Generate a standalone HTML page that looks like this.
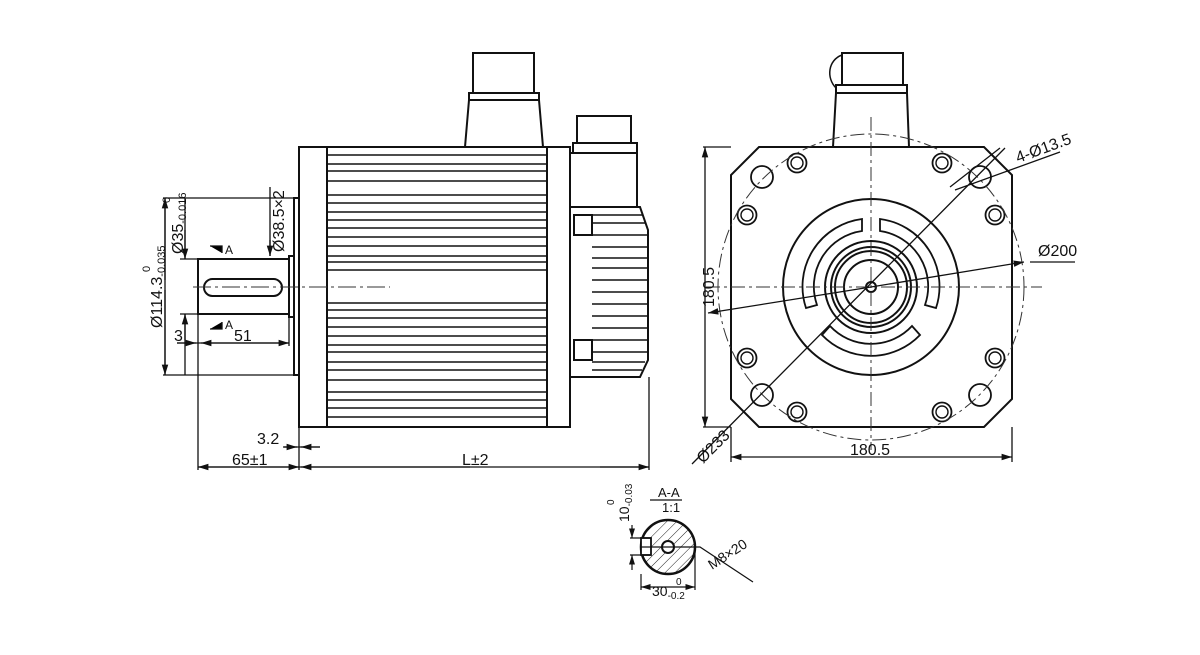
<!DOCTYPE html>
<html><head><meta charset="utf-8"><style>body{margin:0;background:#fff}svg{display:block}text{font-family:"Liberation Sans",sans-serif;fill:#111}</style></head><body>
<svg width="1200" height="655" viewBox="0 0 1200 655" xmlns="http://www.w3.org/2000/svg">
<defs>
<pattern id="h" width="7" height="7" patternUnits="userSpaceOnUse" patternTransform="rotate(45)"><line x1="0" y1="0" x2="0" y2="7" stroke="#222" stroke-width="1"/></pattern>
<marker id="a" markerWidth="8" markerHeight="6" refX="8" refY="3" orient="auto-start-reverse"><path d="M0,0.5L8,3L0,5.5z" fill="#111"/></marker>
<g id="s"><circle r="9.5"/><circle r="6" stroke-width="1.4"/></g>
</defs>
<g fill="none" stroke="#111" stroke-width="2">
<rect x="299" y="147" width="271" height="280"/>
<line x1="327" y1="147" x2="327" y2="427"/><line x1="547" y1="147" x2="547" y2="427"/>
<path d="M465,147L469,100H539L543,147"/><rect x="469" y="93" width="70" height="7"/><rect x="473" y="53" width="61" height="40"/>
<rect x="573" y="143" width="64" height="10"/><rect x="577" y="116" width="54" height="27"/>
<path d="M570,153H637V207"/>
<path d="M570,207H640L648,230V360L640,377H570"/>
<rect x="574" y="215" width="18" height="20"/><rect x="574" y="340" width="18" height="20"/>
<rect x="198" y="259" width="91" height="55"/><rect x="289" y="256" width="5" height="61"/><rect x="294" y="198" width="5" height="177"/>
<rect x="204" y="279" width="78" height="17" rx="8.5"/>
</g>
<g stroke="#111" stroke-width="1.6">
<path d="M327,155H547M327,164H547M327,171H547M327,181H547M327,195H547M327,203H547M327,212H547M327,220H547M327,228H547M327,237H547M327,246H547M327,256H547M327,262H547M327,270H547M327,303H547M327,310H547M327,318H547M327,327H547M327,336H547M327,345H547M327,352H547M327,362H547M327,370H547M327,380H547M327,392H547M327,400H547M327,408H547M327,417H547"/>
<path d="M592,215H643M592,223H646M592,235H648M592,247H648M592,258H648M592,268H648M592,280H648M592,292H648M592,304H648M592,316H648M592,328H648M592,340H648M592,352H648M592,362H645M592,370H642"/>
</g>
<g stroke="#111" stroke-width="1.3">
<path d="M270,187V256M185,198V259M185,314V375M165,198V375M163,198H299M163,375H299M180,259H198M180,314H198M198,314V470M299,375V470M649,377V470M289,317V346M177,343H289M198,467H649M283,447H320"/>
<path d="M210,246H222V253M210,329H222V322"/>
</g>
<g stroke="#111" stroke-width="1.3" fill="none" marker-end="url(#a)">
<line x1="240" y1="467" x2="198" y2="467"/><line x1="260" y1="467" x2="299" y2="467"/><line x1="470" y1="467" x2="301" y2="467"/><line x1="600" y1="467" x2="649" y2="467"/>
<line x1="240" y1="343" x2="289" y2="343"/><line x1="240" y1="343" x2="201" y2="343"/><line x1="177" y1="343" x2="196" y2="343"/>
<line x1="165" y1="280" x2="165" y2="198"/><line x1="165" y1="290" x2="165" y2="375"/>
<line x1="185" y1="230" x2="185" y2="259"/><line x1="185" y1="340" x2="185" y2="314"/>
<line x1="270" y1="240" x2="270" y2="256"/>
<line x1="284" y1="447" x2="297" y2="447"/><line x1="320" y1="447" x2="301" y2="447"/>
</g>
<line x1="193" y1="287" x2="390" y2="287" stroke="#333" stroke-width="1" stroke-dasharray="18,4,3,4"/>
<g font-size="16">
<text x="462" y="465">L±2</text><text x="232" y="465">65±1</text><text x="257" y="444">3.2</text><text x="234" y="341">51</text><text x="174" y="341">3</text>
<text x="225" y="254" font-size="12">A</text><text x="225" y="329" font-size="12">A</text>
<text transform="translate(162,328) rotate(-90)">Ø114.3<tspan font-size="11" dy="3">-0.035</tspan></text>
<text transform="translate(150,272) rotate(-90)" font-size="11">0</text>
<text transform="translate(183,254) rotate(-90)">Ø35<tspan font-size="11" dy="3">-0.016</tspan></text>
<text transform="translate(170,203) rotate(-90)" font-size="11">0</text>
<text transform="translate(284,252) rotate(-90)">Ø38.5×2</text>
</g>
<!-- front view -->
<g fill="none" stroke="#111" stroke-width="2">
<path d="M759,147H984L1012,175V399L984,427H759L731,399V175Z"/>
<path d="M833,147L836,93H907L909,147"/><rect x="836" y="85" width="71" height="8"/><rect x="842" y="53" width="61" height="32"/>
<path d="M842,55C828,60 826,78 836,88" stroke-width="1.5"/>
<circle cx="871" cy="287" r="88"/><circle cx="871" cy="287" r="46"/><circle cx="871" cy="287" r="40"/><circle cx="871" cy="287" r="36"/><circle cx="871" cy="287" r="27"/><circle cx="871" cy="287" r="5"/>
</g>
<g fill="none" stroke="#111" stroke-width="1.8">
<path d="M862,219A68,68 0 0 0 806,308L817,305A56,56 0 0 1 862,231Z"/>
<path d="M880,219A68,68 0 0 1 936,308L925,305A56,56 0 0 0 880,231Z"/>
<path d="M822,335A68,68 0 0 0 920,335L912,326A56,56 0 0 1 830,326Z"/>
<circle cx="762" cy="177" r="11"/><circle cx="980" cy="177" r="11"/><circle cx="762" cy="395" r="11"/><circle cx="980" cy="395" r="11"/>
<use href="#s" x="797" y="163"/><use href="#s" x="942" y="163"/><use href="#s" x="747" y="215"/><use href="#s" x="995" y="215"/><use href="#s" x="747" y="358"/><use href="#s" x="995" y="358"/><use href="#s" x="797" y="412"/><use href="#s" x="942" y="412"/>
</g>
<g fill="none" stroke="#333" stroke-width="1" stroke-dasharray="14,4,3,4">
<circle cx="871" cy="287" r="153"/>
<line x1="706" y1="287" x2="1042" y2="287"/><line x1="871" y1="117" x2="871" y2="450"/>
</g>
<g stroke="#111" stroke-width="1.3" fill="none">
<path d="M703,147H731M703,427H731M731,427V462M1012,427V462M1005,148L692,464M1030,262H1075M955,190L1060,152M950,187L1000,148"/>
</g>
<g stroke="#111" stroke-width="1.3" fill="none" marker-end="url(#a)">
<line x1="705" y1="287" x2="705" y2="147"/><line x1="705" y1="287" x2="705" y2="427"/>
<line x1="871" y1="457" x2="731" y2="457"/><line x1="871" y1="457" x2="1012" y2="457"/>
<line x1="871" y1="287" x2="1024" y2="262"/><line x1="871" y1="287" x2="708" y2="313"/>
</g>
<g font-size="16">
<text x="850" y="455">180.5</text><text transform="translate(714,307) rotate(-90)">180.5</text>
<text x="1038" y="256">Ø200</text>
<text transform="translate(703,464) rotate(-45)">Ø233</text>
<text transform="translate(1018,163) rotate(-20)">4-Ø13.5</text>
</g>
<!-- section -->
<circle cx="668" cy="547" r="27" fill="url(#h)" stroke="#111" stroke-width="2.5"/>
<rect x="641" y="538" width="10" height="17" fill="#fff" stroke="#111" stroke-width="1.8"/>
<circle cx="668" cy="547" r="6" fill="#fff" stroke="#111" stroke-width="2"/>
<g stroke="#111" stroke-width="1.2" fill="none">
<path d="M650,500H682M630,538H651M630,555H651M641,547H700L753,582M641,574V590M695,547V590"/>
</g>
<g stroke="#111" stroke-width="1.2" marker-end="url(#a)">
<line x1="632" y1="525" x2="632" y2="538"/><line x1="632" y1="570" x2="632" y2="555"/>
<line x1="668" y1="587" x2="641" y2="587"/><line x1="668" y1="587" x2="695" y2="587"/>
</g>
<g font-size="13">
<text x="658" y="497">A-A</text><text x="662" y="512">1:1</text>
<text transform="translate(629,522) rotate(-90)" font-size="14">10<tspan font-size="10" dy="3">-0.03</tspan></text>
<text transform="translate(614,505) rotate(-90)" font-size="10">0</text>
<text x="652" y="596" font-size="14">30<tspan font-size="10" dy="3">-0.2</tspan></text>
<text x="676" y="585" font-size="10">0</text>
<text transform="translate(712,570) rotate(-33)" font-size="14">M8×20</text>
</g>
</svg>
</body></html>
